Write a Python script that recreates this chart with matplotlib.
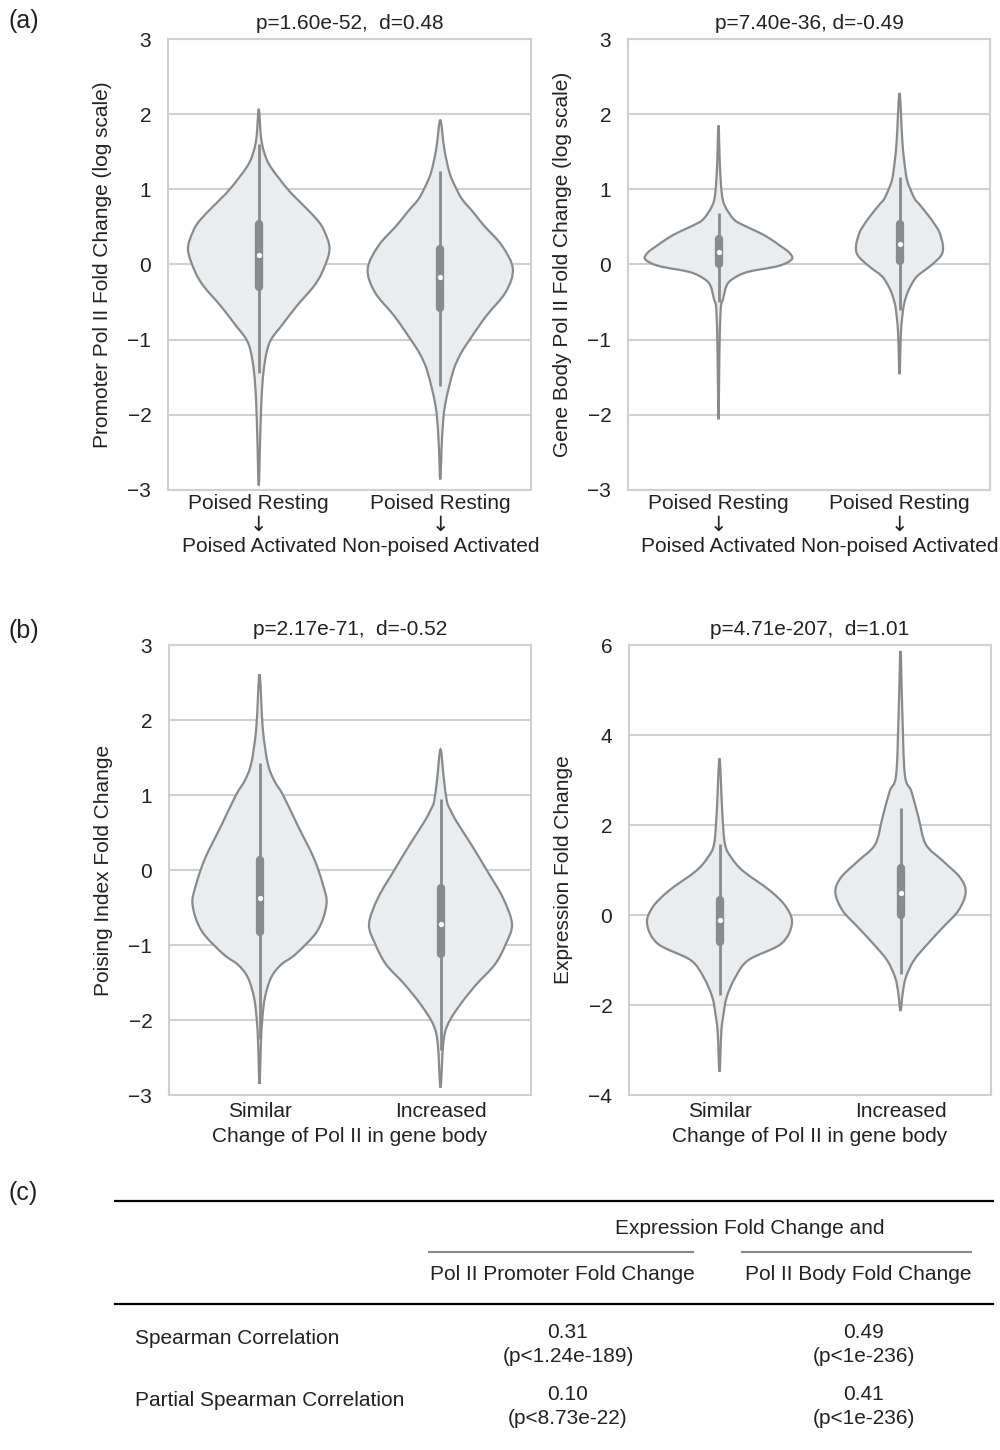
import numpy as np
import matplotlib.pyplot as plt
from matplotlib.path import Path
from matplotlib.patches import PathPatch

plt.rcParams['font.family'] = ['Liberation Sans', 'DejaVu Sans']

# ---- violin outlines: y positions and half-widths (x units), plus box stats ----
# stats order: lower whisker, q1, median, q3, upper whisker

# (a) promoter Pol II fold change
prom_pa_y = [-2.94, -2.3, -1.8, -1.43, -1.15, -0.99, -0.8, -0.55, -0.3, -0.1, 0.2, 0.45, 0.6, 0.8, 1.0, 1.3, 1.49, 1.7, 2.07]
prom_pa_w = [0, 0.008, 0.015, 0.026, 0.045, 0.07, 0.13, 0.21, 0.30, 0.35, 0.39, 0.36, 0.32, 0.24, 0.16, 0.065, 0.03, 0.012, 0]
prom_pa_stats = [-1.45, -0.30, 0.13, 0.54, 1.6]

prom_npa_y = [-2.86, -2.3, -1.88, -1.43, -1.2, -0.99, -0.68, -0.37, -0.06, 0.25, 0.52, 0.7, 0.87, 1.05, 1.23, 1.54, 1.92]
prom_npa_w = [0, 0.01, 0.026, 0.07, 0.11, 0.165, 0.255, 0.36, 0.40, 0.34, 0.24, 0.18, 0.12, 0.08, 0.05, 0.022, 0]
prom_npa_stats = [-1.62, -0.58, -0.16, 0.21, 1.24]

# (a) gene body Pol II fold change
body_pa_y = [-2.06, -1.2, -0.6, -0.46, -0.28, -0.19, -0.1, -0.02, 0.07, 0.16, 0.25, 0.35, 0.43, 0.52, 0.6, 0.78, 0.95, 1.3, 1.85]
body_pa_w = [0, 0.005, 0.012, 0.025, 0.045, 0.08, 0.16, 0.33, 0.405, 0.39, 0.34, 0.28, 0.22, 0.14, 0.085, 0.035, 0.018, 0.008, 0]
body_pa_stats = [-0.5, 0.0, 0.16, 0.34, 0.69]

body_npa_y = [-1.46, -0.9, -0.64, -0.5, -0.37, -0.25, -0.15, -0.02, 0.12, 0.25, 0.43, 0.55, 0.65, 0.8, 0.87, 1.0, 1.14, 1.4, 1.67, 2.28]
body_npa_w = [0, 0.008, 0.018, 0.028, 0.045, 0.07, 0.10, 0.17, 0.23, 0.24, 0.22, 0.19, 0.16, 0.11, 0.085, 0.06, 0.04, 0.025, 0.015, 0]
body_npa_stats = [-0.6, 0.05, 0.27, 0.54, 1.16]

# (b) poising index fold change
pidx_sim_y = [-2.85, -2.3, -2.0, -1.7, -1.43, -1.26, -1.12, -0.81, -0.46, -0.19, 0.16, 0.6, 1.0, 1.2, 1.43, 1.89, 2.61]
pidx_sim_w = [0, 0.008, 0.015, 0.03, 0.065, 0.12, 0.20, 0.32, 0.37, 0.35, 0.30, 0.21, 0.13, 0.08, 0.045, 0.018, 0]
pidx_sim_stats = [-2.25, -0.82, -0.37, 0.13, 1.43]

pidx_inc_y = [-2.90, -2.32, -2.06, -1.79, -1.52, -1.26, -0.99, -0.72, -0.37, -0.02, 0.34, 0.65, 0.8, 0.92, 1.23, 1.61]
pidx_inc_w = [0, 0.015, 0.04, 0.11, 0.20, 0.30, 0.36, 0.395, 0.345, 0.26, 0.17, 0.088, 0.055, 0.035, 0.018, 0]
pidx_inc_stats = [-2.4, -1.12, -0.72, -0.24, 0.95]

# (b) expression fold change
expr_sim_y = [-3.48, -2.6, -2.26, -1.82, -1.38, -1.0, -0.64, -0.2, 0.17, 0.54, 0.98, 1.28, 1.58, 2.31, 3.48]
expr_sim_w = [0, 0.01, 0.02, 0.04, 0.088, 0.16, 0.34, 0.40, 0.37, 0.28, 0.13, 0.065, 0.03, 0.015, 0]
expr_sim_stats = [-1.78, -0.59, -0.12, 0.34, 1.58]

expr_inc_y = [-2.13, -1.74, -1.38, -1.0, -0.64, -0.27, 0.1, 0.5, 0.83, 1.2, 1.57, 2.16, 2.75, 3.12, 4.52, 5.87]
expr_inc_w = [0, 0.012, 0.03, 0.075, 0.15, 0.235, 0.32, 0.36, 0.33, 0.235, 0.14, 0.10, 0.06, 0.024, 0.01, 0]
expr_inc_stats = [-1.3, 0.01, 0.5, 1.04, 2.39]

# panel titles / labels
titles = ["p=1.60e-52,  d=0.48", "p=7.40e-36, d=-0.49",
          "p=2.17e-71,  d=-0.52", "p=4.71e-207,  d=1.01"]
ylabels = ["Promoter Pol II Fold Change (log scale)", "Gene Body Pol II Fold Change (log scale)",
           "Poising Index Fold Change", "Expression Fold Change"]
groups_a_from = ["Poised Resting", "Poised Resting"]
groups_a_to = ["Poised Activated", "Non-poised Activated"]
groups_b = ["Similar", "Increased"]
xlabel_b = "Change of Pol II in gene body"

# (c) correlation table
table_header = "Expression Fold Change and"
table_cols = ["Pol II Promoter Fold Change", "Pol II Body Fold Change"]
table_rows = ["Spearman Correlation", "Partial Spearman Correlation"]
table_rho = [[0.31, 0.49], [0.10, 0.41]]
table_p = [["p<1.24e-189", "p<1e-236"], ["p<8.73e-22", "p<1e-236"]]

FILL = '#eaedf0'
EDGE = '#8a8a8a'
GRID = '#d0d0d0'
TXT = '#222222'
FS = 15


def _outline_path(pos, y, w):
    """Closed smooth outline (Catmull-Rom through the profile points)."""
    y = np.asarray(y, float)
    w = np.asarray(w, float)
    xs = np.concatenate([pos + w, (pos - w)[-2:0:-1]])
    ys = np.concatenate([y, y[-2:0:-1]])
    pts = np.column_stack([xs, ys])
    n = len(pts)
    verts = [pts[0]]
    codes = [Path.MOVETO]
    for i in range(n):
        p0, p1, p2, p3 = pts[i - 1], pts[i], pts[(i + 1) % n], pts[(i + 2) % n]
        verts += [p1 + (p2 - p0) / 6, p2 - (p3 - p1) / 6, p2]
        codes += [Path.CURVE4] * 3
    return Path(verts, codes)


def draw_violin(ax, pos, y, w, stats):
    ax.add_patch(PathPatch(_outline_path(pos, y, w), facecolor=FILL, edgecolor=EDGE,
                           lw=1.6, zorder=3))
    lo, q1, med, q3, hi = stats
    ax.plot([pos, pos], [lo, hi], color=EDGE, lw=2.0, solid_capstyle='butt', zorder=4)
    ax.plot([pos, pos], [q1, q3], color=EDGE, lw=6.0, solid_capstyle='round', zorder=5)
    ax.plot([pos], [med], 'o', color='white', ms=3.8, mew=0, zorder=6)


def style_axes(ax, ylim, yticks, title, ylabel):
    ax.set_xlim(-0.5, 1.5)
    ax.set_ylim(*ylim)
    ax.set_yticks(yticks)
    ax.set_xticks([0, 1])
    ax.tick_params(axis='y', length=0, pad=12, labelsize=FS, labelcolor=TXT)
    ax.tick_params(axis='x', length=0, pad=5, labelsize=FS, labelcolor=TXT)
    ax.yaxis.grid(True, color=GRID, lw=1.5)
    ax.xaxis.grid(False)
    ax.set_axisbelow(True)
    for sp in ax.spines.values():
        sp.set_color(GRID)
        sp.set_linewidth(1.5)
    ax.set_title(title, fontsize=FS, color=TXT, pad=7)
    ax.set_ylabel(ylabel, fontsize=FS, color=TXT)
    ax.yaxis.set_label_coords(-0.155, 0.5)


def transition_labels(ax, src, dst):
    """Three-line group labels: source state, arrow, target state."""
    ax.set_xticklabels([])
    for pos, a, b in zip([0, 1], src, dst):
        for txt, dy, fam in [(a, -14, None), ("\u2193", -35, 'DejaVu Sans'), (b, -57, None)]:
            kw = {'family': fam} if fam else {}
            ax.annotate(txt, xy=(pos, 0), xycoords=('data', 'axes fraction'),
                        xytext=(0, dy), textcoords='offset pixels',
                        ha='center', va='center', fontsize=FS, color=TXT, **kw)


fig = plt.figure(figsize=(10, 14.5), dpi=100)

ax_a1 = fig.add_axes([0.168, 0.6621, 0.363, 0.311])
ax_a2 = fig.add_axes([0.628, 0.6621, 0.362, 0.311])
ax_b1 = fig.add_axes([0.169, 0.2448, 0.362, 0.3103])
ax_b2 = fig.add_axes([0.629, 0.2448, 0.362, 0.3103])

draw_violin(ax_a1, 0, prom_pa_y, prom_pa_w, prom_pa_stats)
draw_violin(ax_a1, 1, prom_npa_y, prom_npa_w, prom_npa_stats)
draw_violin(ax_a2, 0, body_pa_y, body_pa_w, body_pa_stats)
draw_violin(ax_a2, 1, body_npa_y, body_npa_w, body_npa_stats)
draw_violin(ax_b1, 0, pidx_sim_y, pidx_sim_w, pidx_sim_stats)
draw_violin(ax_b1, 1, pidx_inc_y, pidx_inc_w, pidx_inc_stats)
draw_violin(ax_b2, 0, expr_sim_y, expr_sim_w, expr_sim_stats)
draw_violin(ax_b2, 1, expr_inc_y, expr_inc_w, expr_inc_stats)

style_axes(ax_a1, (-3, 3), range(-3, 4), titles[0], ylabels[0])
style_axes(ax_a2, (-3, 3), range(-3, 4), titles[1], ylabels[1])
style_axes(ax_b1, (-3, 3), range(-3, 4), titles[2], ylabels[2])
style_axes(ax_b2, (-4, 6), range(-4, 7, 2), titles[3], ylabels[3])
for ax in (ax_a1, ax_a2):
    transition_labels(ax, groups_a_from, groups_a_to)
for ax in (ax_b1, ax_b2):
    ax.set_xticklabels(groups_b)
    ax.set_xlabel(xlabel_b, fontsize=FS, color=TXT, labelpad=4)

# overlay in pixel units for panel tags and the table
ov = fig.add_axes([0, 0, 1, 1])
ov.set_xlim(0, 1000)
ov.set_ylim(1450, 0)
ov.axis('off')
ov.patch.set_visible(False)

for tag, ty in zip(["(a)", "(b)", "(c)"], [21, 631, 1193]):
    ov.text(8, ty, tag, fontsize=18, color=TXT, ha='left', va='center')

col_x = [562, 858]
ov.plot([115, 993], [1201, 1201], color='black', lw=1.6)
ov.plot([115, 993], [1304, 1304], color='black', lw=1.6)
ov.plot([429, 693], [1252, 1252], color='#888888', lw=1.5)
ov.plot([742, 971], [1252, 1252], color='#888888', lw=1.5)
ov.text(750, 1229, table_header, fontsize=FS, color=TXT, ha='center', va='center')
for cx, name in zip(col_x, table_cols):
    ov.text(cx, 1275, name, fontsize=FS, color=TXT, ha='center', va='center')
for r, (row_name, ry) in enumerate(zip(table_rows, [1339, 1401])):
    ov.text(135, ry, row_name, fontsize=FS, color=TXT, ha='left', va='center')
    for c, cx in enumerate(col_x):
        ov.text(cx + 6, ry - 7, f"{table_rho[r][c]:.2f}", fontsize=FS, color=TXT,
                ha='center', va='center')
        ov.text(cx + 6, ry + 18, f"({table_p[r][c]})", fontsize=FS, color=TXT,
                ha='center', va='center')

fig.savefig('out.png', dpi=100, facecolor='white')
